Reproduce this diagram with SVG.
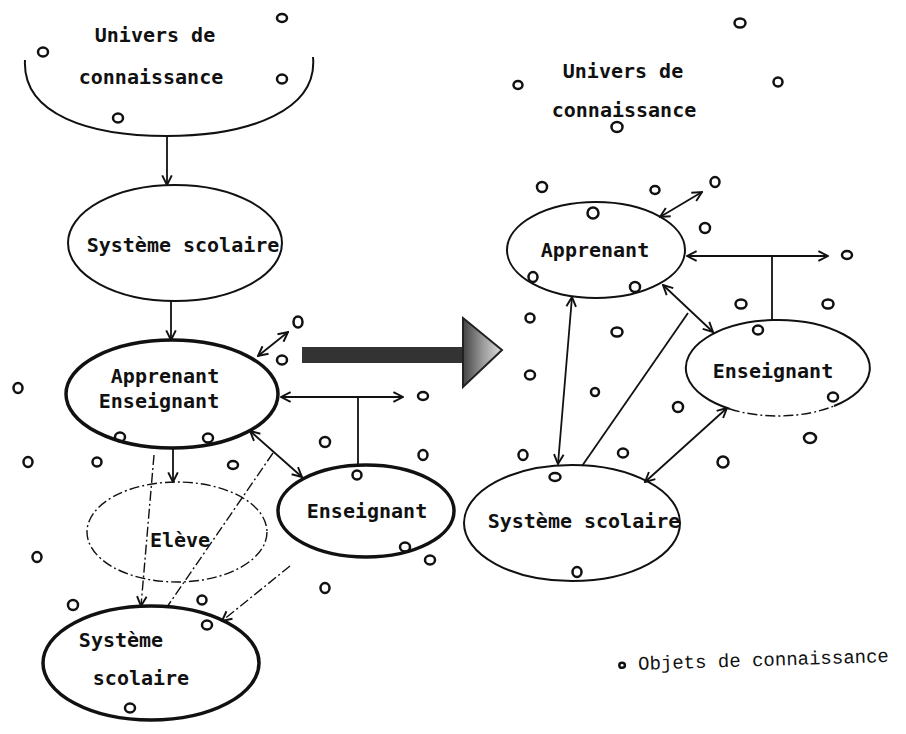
<svg xmlns="http://www.w3.org/2000/svg" width="906" height="734" viewBox="0 0 906 734">
<style>
.lbl{font-family:"DejaVu Sans Mono","Liberation Mono",monospace;font-weight:bold;font-size:20px;fill:#111}
.leg{font-family:"Liberation Mono","DejaVu Sans Mono",monospace;font-size:19px;fill:#111}
.nd{fill:none;stroke:#111;stroke-width:2}
.thick{fill:none;stroke:#111;stroke-width:3.5}
.ln{fill:none;stroke:#111;stroke-width:1.8}
.dd{fill:none;stroke:#111;stroke-width:1.4;stroke-dasharray:10 3 2 3}
.ob{fill:none;stroke:#111;stroke-width:2.5}
</style>
<defs>
<marker id="ah" viewBox="0 0 10 10" refX="9" refY="5" markerWidth="12" markerHeight="12" markerUnits="userSpaceOnUse" orient="auto-start-reverse">
<path d="M1,1 L9,5 L1,9" fill="none" stroke="#111" stroke-width="1.6"/>
</marker>
<linearGradient id="hg" x1="0" y1="0" x2="1" y2="0">
<stop offset="0" stop-color="#444"/>
<stop offset="0.5" stop-color="#999"/>
<stop offset="1" stop-color="#ddd"/>
</linearGradient>
</defs>

<g id="univers-left">
<path class="nd" d="M25,60 C22,115 90,136 167,136 C250,136 318,110 313,57"/>
<text class="lbl" x="155" y="42" text-anchor="middle">Univers de</text>
<text class="lbl" x="151" y="84" text-anchor="middle">connaissance</text>
</g>
<g id="systeme-1">
<ellipse class="nd" cx="175" cy="243" rx="107" ry="58"/>
<text class="lbl" x="183" y="252" text-anchor="middle">Système scolaire</text>
</g>
<g id="apprenant-enseignant">
<ellipse class="thick" cx="172" cy="394" rx="106" ry="54"/>
<text class="lbl" x="165" y="383" text-anchor="middle">Apprenant</text>
<text class="lbl" x="159" y="408" text-anchor="middle">Enseignant</text>
</g>
<g id="eleve">
<ellipse class="dd" cx="177" cy="532" rx="90" ry="50"/>
<text class="lbl" x="180" y="547" text-anchor="middle">Elève</text>
</g>
<g id="enseignant-left">
<ellipse class="thick" cx="366" cy="511" rx="88" ry="46" stroke-width="3"/>
<text class="lbl" x="367" y="518" text-anchor="middle">Enseignant</text>
</g>
<g id="systeme-2">
<ellipse class="thick" cx="151" cy="663" rx="108" ry="57"/>
<text class="lbl" x="121" y="647" text-anchor="middle">Système</text>
<text class="lbl" x="141" y="685" text-anchor="middle">scolaire</text>
</g>

<g id="big-arrow">
<rect x="302" y="347" width="163" height="16" fill="#333"/>
<polygon points="463,318 502,350 463,387" fill="url(#hg)" stroke="#222" stroke-width="2"/>
</g>

<g id="univers-right">
<text class="lbl" x="623" y="78" text-anchor="middle">Univers de</text>
<text class="lbl" x="624" y="117" text-anchor="middle">connaissance</text>
</g>
<g id="apprenant-right">
<ellipse class="nd" cx="596" cy="250" rx="89" ry="48"/>
<text class="lbl" x="595" y="257" text-anchor="middle">Apprenant</text>
</g>
<g id="enseignant-right">
<path class="nd" d="M834,406 A92,48 0 1 0 730,409"/>
<path class="dd" d="M730,409 A92,48 0 0 0 834,406"/>
<text class="lbl" x="773" y="378" text-anchor="middle">Enseignant</text>
</g>
<g id="systeme-right">
<ellipse class="nd" cx="572" cy="523" rx="108" ry="58"/>
<text class="lbl" x="584" y="528" text-anchor="middle">Système scolaire</text>
</g>

<g id="connectors">
<path class="ln" d="M167,137 L167,185" marker-end="url(#ah)"/>
<path class="ln" d="M171,301 L171,340" marker-end="url(#ah)"/>
<path class="ln" d="M258,356 L288,332" marker-start="url(#ah)" marker-end="url(#ah)"/>
<path class="ln" d="M281,397 L403,397" marker-start="url(#ah)" marker-end="url(#ah)"/>
<path class="ln" d="M358,397 L358,465"/>
<path class="ln" d="M250,431 L302,477" marker-start="url(#ah)" marker-end="url(#ah)"/>
<path class="ln" d="M173,449 L173,482" marker-end="url(#ah)"/>
<path class="dd" d="M154,455 L141,606" marker-end="url(#ah)"/>
<path class="dd" d="M273,453 L167,607"/>
<path class="dd" d="M290,566 L222,621" marker-end="url(#ah)"/>
<path class="ln" d="M660,217 L702,192" marker-start="url(#ah)" marker-end="url(#ah)"/>
<path class="ln" d="M687,256 L828,256" marker-start="url(#ah)" marker-end="url(#ah)"/>
<path class="ln" d="M772,256 L772,320"/>
<path class="ln" d="M663,285 L713,332" marker-start="url(#ah)" marker-end="url(#ah)"/>
<path class="ln" d="M582,466 L688,313"/>
<path class="ln" d="M572,297 L558,464" marker-start="url(#ah)" marker-end="url(#ah)"/>
<path class="ln" d="M727,408 L645,482" marker-start="url(#ah)" marker-end="url(#ah)"/>
</g>

<g id="objets">
<ellipse class="ob" cx="43" cy="52" rx="5" ry="4.5"/>
<ellipse class="ob" cx="282" cy="18" rx="5" ry="4"/>
<ellipse class="ob" cx="282" cy="79" rx="5" ry="4.5"/>
<ellipse class="ob" cx="118" cy="118" rx="5" ry="4.5"/>
<ellipse class="ob" cx="298" cy="322" rx="4.5" ry="5.5"/>
<ellipse class="ob" cx="282" cy="360" rx="5" ry="4.5"/>
<ellipse class="ob" cx="18" cy="388" rx="4.5" ry="5"/>
<ellipse class="ob" cx="423" cy="396" rx="5" ry="4"/>
<ellipse class="ob" cx="120" cy="437" rx="5" ry="4.5"/>
<ellipse class="ob" cx="208" cy="438" rx="5" ry="4.5"/>
<ellipse class="ob" cx="325" cy="442" rx="5" ry="5"/>
<ellipse class="ob" cx="28" cy="462" rx="4.5" ry="5"/>
<ellipse class="ob" cx="97" cy="462" rx="4.5" ry="4.5"/>
<ellipse class="ob" cx="423" cy="455" rx="4.5" ry="5"/>
<ellipse class="ob" cx="233" cy="465" rx="5" ry="4"/>
<ellipse class="ob" cx="357" cy="475" rx="4.5" ry="4.5"/>
<ellipse class="ob" cx="37" cy="557" rx="4.5" ry="5"/>
<ellipse class="ob" cx="405" cy="547" rx="5" ry="4.5"/>
<ellipse class="ob" cx="430" cy="560" rx="5" ry="4.5"/>
<ellipse class="ob" cx="325" cy="588" rx="4.5" ry="5"/>
<ellipse class="ob" cx="73" cy="605" rx="5" ry="5"/>
<ellipse class="ob" cx="202" cy="600" rx="4.5" ry="4.5"/>
<ellipse class="ob" cx="207" cy="625" rx="5" ry="4.5"/>
<ellipse class="ob" cx="130" cy="708" rx="5" ry="4.5"/>
<ellipse class="ob" cx="740" cy="23" rx="5.5" ry="4.5"/>
<ellipse class="ob" cx="518" cy="85" rx="4.5" ry="4"/>
<ellipse class="ob" cx="778" cy="82" rx="4.5" ry="4.5"/>
<ellipse class="ob" cx="617" cy="127" rx="5.5" ry="5"/>
<ellipse class="ob" cx="542" cy="187" rx="5" ry="5"/>
<ellipse class="ob" cx="655" cy="190" rx="4.5" ry="4"/>
<ellipse class="ob" cx="715" cy="182" rx="4.5" ry="5"/>
<ellipse class="ob" cx="593" cy="213" rx="5.5" ry="5.5"/>
<ellipse class="ob" cx="705" cy="228" rx="5" ry="5"/>
<ellipse class="ob" cx="847" cy="255" rx="5" ry="4"/>
<ellipse class="ob" cx="533" cy="277" rx="4.5" ry="5"/>
<ellipse class="ob" cx="635" cy="287" rx="5" ry="5"/>
<ellipse class="ob" cx="530" cy="318" rx="4.5" ry="4.5"/>
<ellipse class="ob" cx="741" cy="304" rx="5.5" ry="4.5"/>
<ellipse class="ob" cx="828" cy="304" rx="5.5" ry="4.5"/>
<ellipse class="ob" cx="617" cy="332" rx="5.5" ry="4.5"/>
<ellipse class="ob" cx="758" cy="330" rx="5" ry="4.5"/>
<ellipse class="ob" cx="530" cy="375" rx="5" ry="4.5"/>
<ellipse class="ob" cx="595" cy="392" rx="4" ry="4"/>
<ellipse class="ob" cx="678" cy="407" rx="5" ry="5"/>
<ellipse class="ob" cx="833" cy="397" rx="5" ry="4.5"/>
<ellipse class="ob" cx="810" cy="438" rx="6" ry="5"/>
<ellipse class="ob" cx="723" cy="462" rx="5.5" ry="5.5"/>
<ellipse class="ob" cx="523" cy="455" rx="4.5" ry="5"/>
<ellipse class="ob" cx="623" cy="453" rx="5" ry="4.5"/>
<ellipse class="ob" cx="555" cy="477" rx="5.5" ry="4"/>
<ellipse class="ob" cx="577" cy="572" rx="4.5" ry="5"/>
</g>

<g id="legende" transform="rotate(-1.8 760 660)">
<ellipse class="ob" cx="622" cy="661" rx="2.8" ry="2.5" stroke-width="1.6"/>
<text class="leg" x="638" y="666">Objets de connaissance</text>
</g>
</svg>
